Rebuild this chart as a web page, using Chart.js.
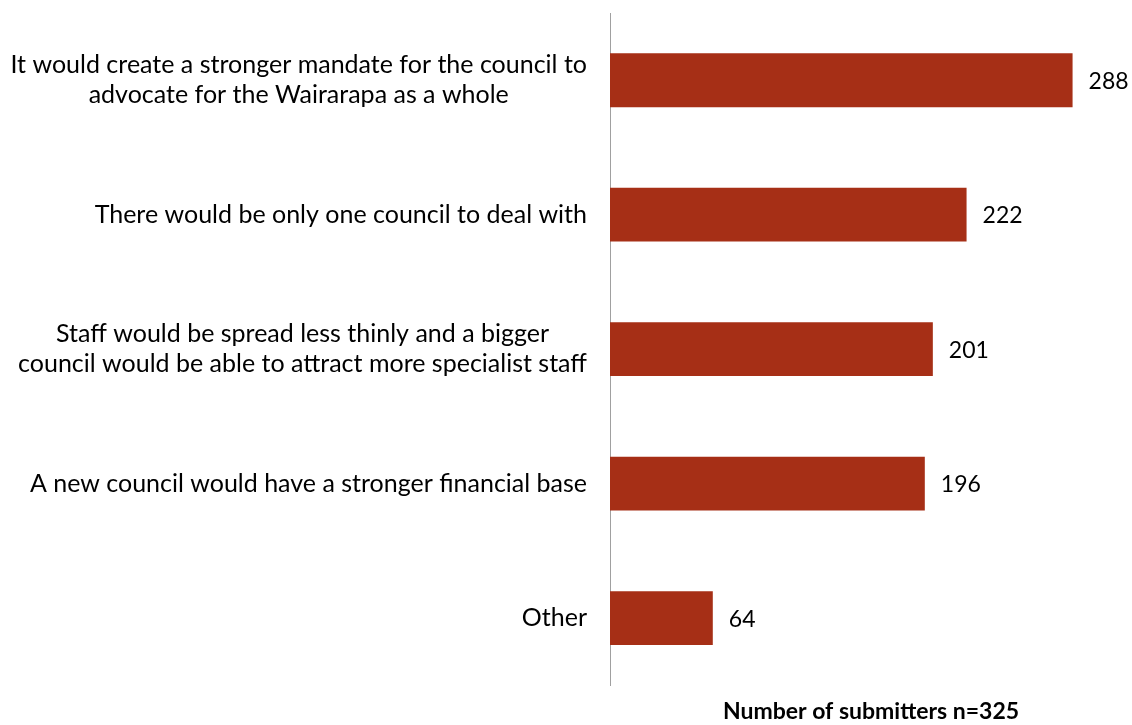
<!DOCTYPE html>
<html>
<head>
<meta charset="utf-8">
<script src="https://cdn.jsdelivr.net/npm/chart.js@4.4.1/dist/chart.umd.min.js"></script>
<style>
  html, body { margin: 0; padding: 0; background: #ffffff; }
  #wrap { width: 1132px; height: 725px; position: relative; }
</style>
</head>
<body>
<div id="wrap"><canvas id="chart"></canvas></div>
<script>
// Reasons given in favour of a single Wairarapa council
const categories = [
  ["It would create a stronger mandate for the council to", "advocate for the Wairarapa as a whole"],
  ["There would be only one council to deal with"],
  ["Staff would be spread less thinly and a bigger", "council would be able to attract more specialist staff"],
  ["A new council would have a stronger financial base"],
  ["Other"]
];
const submitterCounts = [288, 222, 201, 196, 64];
const axisTitle = "Number of submitters n=325";
const axisMax = 325;

const FONT = "Lato, 'Open Sans', sans-serif";

// Category labels: each block right-aligned to the axis, its lines centred on one another
const categoryLabels = {
  id: 'categoryLabels',
  afterDraw(chart) {
    const ctx = chart.ctx;
    const yScale = chart.scales.y;
    const rightEdge = chart.chartArea.left - 23;
    const lineHeight = 30;
    ctx.save();
    ctx.font = "25px " + FONT;
    ctx.fillStyle = "#000000";
    ctx.textAlign = "center";
    ctx.textBaseline = "middle";
    categories.forEach((lines, i) => {
      const widest = Math.max(...lines.map(l => ctx.measureText(l).width));
      const cx = rightEdge - widest / 2;
      const cy = yScale.getPixelForValue(i);
      const top = cy - (lines.length - 1) * lineHeight / 2;
      lines.forEach((l, j) => ctx.fillText(l, cx, top + j * lineHeight));
    });
    ctx.restore();
  }
};

// Count printed just past the end of each bar
const valueLabels = {
  id: 'valueLabels',
  afterDatasetsDraw(chart) {
    const ctx = chart.ctx;
    const meta = chart.getDatasetMeta(0);
    ctx.save();
    ctx.font = "23px " + FONT;
    ctx.fillStyle = "#000000";
    ctx.textAlign = "left";
    ctx.textBaseline = "middle";
    meta.data.forEach((bar, i) => {
      ctx.fillText(String(submitterCounts[i]), bar.x + 16, bar.y + 1);
    });
    ctx.restore();
  }
};

new Chart(document.getElementById('chart'), {
  type: 'bar',
  data: {
    labels: categories.map(c => c.join(' ')),
    datasets: [{
      data: submitterCounts,
      backgroundColor: '#A62F16',
      borderWidth: 0,
      categoryPercentage: 1.0,
      barPercentage: 0.4
    }]
  },
  options: {
    indexAxis: 'y',
    responsive: true,
    maintainAspectRatio: false,
    animation: false,
    layout: { padding: { top: 13, right: 0, bottom: 0, left: 0 } },
    plugins: {
      legend: { display: false },
      tooltip: { enabled: false }
    },
    scales: {
      x: {
        min: 0,
        max: axisMax,
        grid: { display: false },
        border: { display: false },
        ticks: { display: false },
        title: {
          display: true,
          text: axisTitle,
          color: '#000000',
          font: { family: FONT, size: 23, weight: 'bold', lineHeight: 1.2 },
          padding: { top: 4, bottom: 0 }
        }
      },
      y: {
        grid: { display: false },
        border: { display: true, color: '#A0A0A0', width: 1 },
        ticks: { display: false },
        afterFit(scale) { scale.width = 610; }
      }
    }
  },
  plugins: [categoryLabels, valueLabels]
});
</script>
</body>
</html>
